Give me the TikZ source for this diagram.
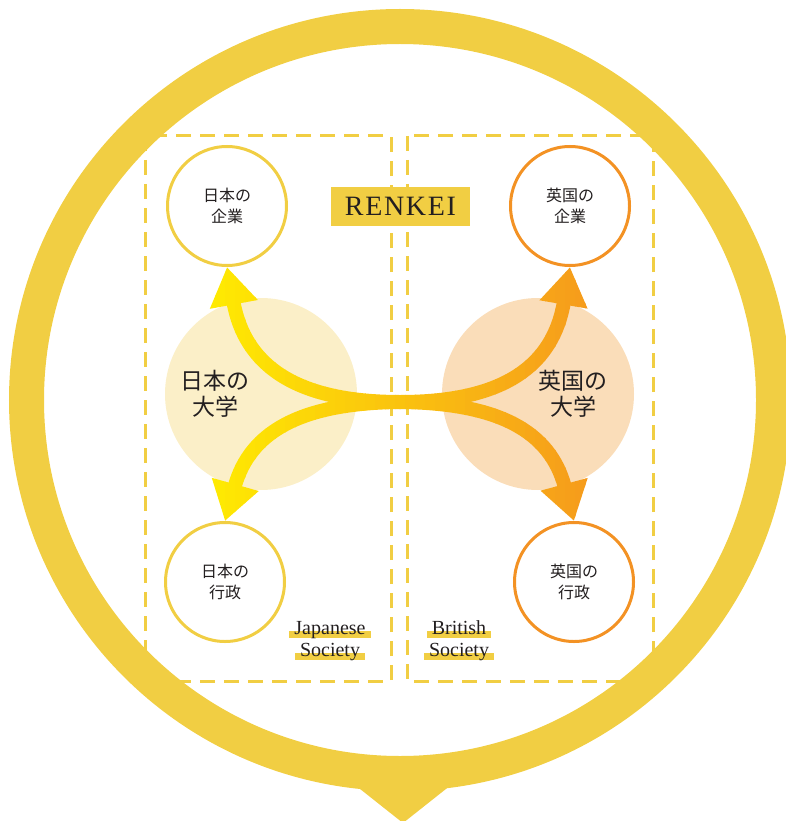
\documentclass[tikz,border=0pt]{standalone}
\usepackage{fontspec}
\setmainfont{Liberation Serif}
\newfontfamily\jpfont{Noto Sans CJK JP}
\newfontfamily\spacedfont[LetterSpace=6]{Liberation Serif}
\usetikzlibrary{arrows.meta,positioning}

\definecolor{ringyellow}{RGB}{241,206,67}
\definecolor{ukorange}{RGB}{243,146,36}
\definecolor{japanfill}{RGB}{251,239,200}
\definecolor{ukfill}{RGB}{250,221,185}
\definecolor{arryellow}{RGB}{255,238,0}
\definecolor{arrorange}{RGB}{245,148,30}
\definecolor{ink}{RGB}{35,31,32}

% yellow marker stroke under a word
\newcommand\bandtext[1]{\setbox0=\hbox{#1}\rlap{\kern-5pt\color{ringyellow}\rule[-4pt]{\dimexpr\wd0+10pt\relax}{7.5pt}}\box0}

\begin{document}
\begin{tikzpicture}[x=1pt, y=-1pt,
partner/.style={circle, draw, line width=3pt, fill=white, minimum size=119pt,
  inner sep=0pt, align=center, text=ink, font=\jpfont\fontsize{16}{21}\selectfont},
uni/.style={circle, minimum size=192pt, inner sep=0pt},
unilabel/.style={align=center, text=ink, font=\jpfont\fontsize{23}{26}\selectfont},
society/.style={anchor=base, text=ink, font=\fontsize{20}{22}\selectfont},
flow/.style={line width=14pt, -{Triangle[length=38pt, width=46pt]}},
border/.style={ringyellow, line width=3pt, dash pattern=on 15pt off 9pt}]

\useasboundingbox (0,0) rectangle (785,821);

% the two societies
\draw[border] (145,136) rectangle (391,681);
\draw[border] (407,136) rectangle (653,681);

% speech bubble
\draw[ringyellow, line width=35pt] (400,400) circle[radius=373.5pt];
\fill[ringyellow] (350,781) -- (456,781) -- (403,823) -- cycle;

\node[uni, fill=japanfill] (juni) at (261,394) {};
\node[uni, fill=ukfill] (buni) at (538,394) {};
\node[unilabel] (junitext) at (215,393.5) {日本の\\大学};
\node[unilabel] (bunitext) at (573,393.5) {英国の\\大学};

\node[partner, draw=ringyellow] (jcorp) at (227,206) {日本の\\企業};
\node[partner, draw=ringyellow] (jgov) at (225,582) {日本の\\行政};
\node[partner, draw=ukorange] (bcorp) at (570,206) {英国の\\企業};
\node[partner, draw=ukorange] (bgov) at (574,582) {英国の\\行政};

\coordinate (hub) at (400,402);

% arrows, shaded from yellow to orange in thin strips
\foreach \x in {185,195,...,605}{
  \pgfmathtruncatemacro\mix{(\x-185)/4.3}
  \begin{scope}
  \clip (\x,240) rectangle (\x+10.5,560);
  \draw[flow, draw=arrorange!\mix!arryellow]
    (hub) .. controls (295,402) and (245,365) .. (jcorp.south);
  \draw[flow, draw=arrorange!\mix!arryellow]
    (hub) .. controls (300,403) and (250,432) .. (jgov.north);
  \draw[flow, draw=arrorange!\mix!arryellow]
    (hub) .. controls (505,402) and (553,365) .. (bcorp.south);
  \draw[flow, draw=arrorange!\mix!arryellow]
    (hub) .. controls (500,403) and (550,432) .. (bgov.north);
  \end{scope}
}

\node[fill=ringyellow, minimum width=139pt, minimum height=39pt, inner sep=0pt,
  text=ink, font=\spacedfont\fontsize{28}{28}\selectfont] (renkei) at (400.5,206.5) {RENKEI};

\node[society] (japanese) at (330,634) {\bandtext{Japanese}};
\node[society] (japsociety) at (330,656) {\bandtext{Society}};
\node[society] (british) at (459,634) {\bandtext{British}};
\node[society] (britsociety) at (459,656) {\bandtext{Society}};

\end{tikzpicture}
\end{document}
